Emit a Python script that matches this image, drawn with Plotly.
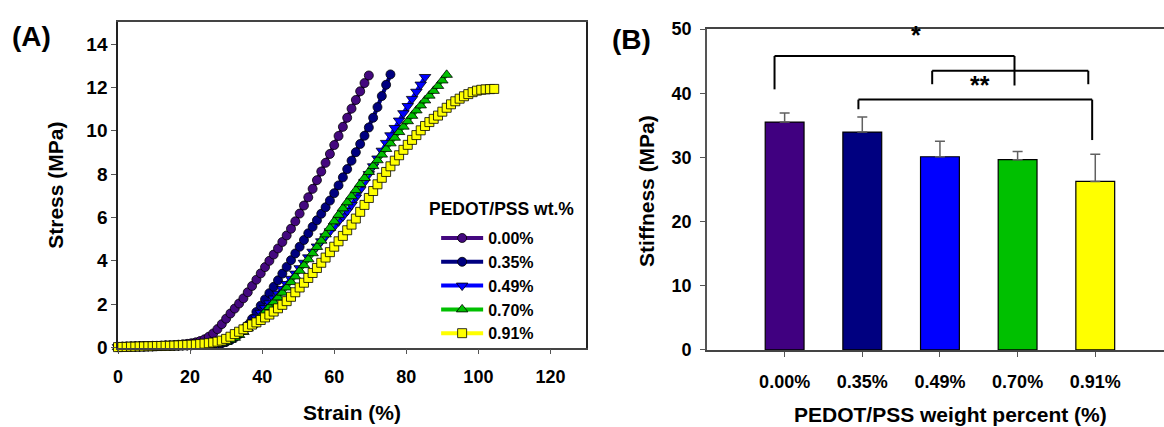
import plotly.graph_objects as go

# ---------------- data: panel A (stress-strain) ----------------
STRAIN = [0, 1.2, 2.4, 3.6, 4.8, 6.0, 7.2, 8.4, 9.6, 10.8, 12.0, 13.2, 14.4, 15.6, 16.8,
          18.0, 19.2, 20.4, 21.6, 22.8, 24.0, 25.2, 26.4, 27.6, 28.8, 30.0, 31.2, 32.4,
          33.6, 34.8, 36.0, 37.2, 38.4, 39.6, 40.8, 42.0, 43.2, 44.4, 45.6, 46.8, 48.0,
          49.2, 50.4, 51.6, 52.8, 54.0, 55.2, 56.4, 57.6, 58.8, 60.0, 61.2, 62.4, 63.6,
          64.8, 66.0, 67.2, 68.4, 69.6, 70.8, 72.0, 73.2, 74.4, 75.6, 76.8, 78.0, 79.2,
          80.4, 81.6, 82.8, 84.0, 85.2, 86.4, 87.6, 88.8, 90.0, 91.2, 92.4, 93.6, 94.8,
          96.0, 97.2, 98.4, 99.6, 100.8, 102.0, 103.2, 104.4]

STRESS_000 = [0.03, 0.04, 0.05, 0.05, 0.06, 0.06, 0.07, 0.07, 0.08, 0.08,
              0.09, 0.10, 0.10, 0.11, 0.13, 0.15, 0.17, 0.20, 0.24, 0.30,
              0.38, 0.50, 0.65, 0.85, 1.08, 1.33, 1.57, 1.80, 2.03, 2.27,
              2.55, 2.84, 3.13, 3.42, 3.71, 4.00, 4.29, 4.57, 4.87, 5.17,
              5.48, 5.82, 6.18, 6.55, 6.93, 7.32, 7.72, 8.12, 8.52, 8.93,
              9.34, 9.76, 10.18, 10.60, 11.02, 11.42, 11.82, 12.20, 12.55]

STRESS_035 = [0.02, 0.03, 0.03, 0.04, 0.04, 0.05, 0.05, 0.06, 0.06, 0.07,
              0.07, 0.08, 0.08, 0.09, 0.09, 0.10, 0.10, 0.11, 0.12, 0.12,
              0.13, 0.14, 0.15, 0.17, 0.20, 0.26, 0.35, 0.47, 0.62, 0.80,
              1.03, 1.32, 1.64, 1.93, 2.22, 2.51, 2.80, 3.10, 3.41, 3.72,
              4.03, 4.34, 4.65, 4.96, 5.27, 5.57, 5.87, 6.17, 6.47, 6.78,
              7.12, 7.48, 7.85, 8.23, 8.62, 9.01, 9.39, 9.77, 10.15, 10.60,
              11.09, 11.60, 12.12, 12.60]

STRESS_049 = [0.02, 0.03, 0.03, 0.04, 0.04, 0.05, 0.05, 0.06, 0.06, 0.07,
              0.07, 0.08, 0.08, 0.09, 0.09, 0.10, 0.10, 0.11, 0.12, 0.12,
              0.13, 0.14, 0.15, 0.17, 0.20, 0.26, 0.36, 0.48, 0.62, 0.78,
              0.96, 1.16, 1.38, 1.60, 1.82, 2.04, 2.26, 2.48, 2.70, 2.93,
              3.17, 3.41, 3.66, 3.91, 4.16, 4.42, 4.66, 4.90, 5.13, 5.36,
              5.59, 5.82, 6.05, 6.30, 6.58, 6.92, 7.28, 7.64, 8.00, 8.36,
              8.72, 9.08, 9.44, 9.79, 10.13, 10.47, 10.81, 11.14, 11.47, 11.80,
              12.13, 12.48]

STRESS_070 = [0.02, 0.03, 0.03, 0.04, 0.04, 0.05, 0.05, 0.06, 0.06, 0.07,
              0.07, 0.08, 0.08, 0.09, 0.09, 0.10, 0.10, 0.11, 0.12, 0.12,
              0.13, 0.14, 0.15, 0.17, 0.20, 0.26, 0.35, 0.45, 0.58, 0.72,
              0.88, 1.05, 1.24, 1.44, 1.65, 1.87, 2.09, 2.31, 2.53, 2.77,
              3.02, 3.28, 3.54, 3.80, 4.07, 4.35, 4.64, 4.93, 5.22, 5.52,
              5.82, 6.12, 6.42, 6.70, 6.98, 7.26, 7.54, 7.82, 8.10, 8.37,
              8.64, 8.90, 9.16, 9.42, 9.68, 9.94, 10.19, 10.44, 10.69, 10.94,
              11.17, 11.40, 11.62, 11.84, 12.07, 12.32, 12.58]

STRESS_091 = [0.02, 0.03, 0.03, 0.04, 0.04, 0.05, 0.05, 0.06, 0.06, 0.07,
              0.07, 0.08, 0.08, 0.09, 0.10, 0.11, 0.12, 0.13, 0.14, 0.16,
              0.18, 0.20, 0.23, 0.27, 0.32, 0.40, 0.50, 0.62, 0.73, 0.84,
              0.95, 1.06, 1.16, 1.27, 1.39, 1.52, 1.66, 1.81, 1.97, 2.14,
              2.34, 2.55, 2.77, 2.99, 3.21, 3.44, 3.67, 3.91, 4.15, 4.40,
              4.65, 4.90, 5.15, 5.41, 5.67, 5.95, 6.26, 6.58, 6.90, 7.22,
              7.53, 7.83, 8.10, 8.36, 8.62, 8.87, 9.12, 9.35, 9.58, 9.80,
              10.02, 10.22, 10.40, 10.55, 10.70, 10.88, 11.06, 11.22, 11.36, 11.48,
              11.59, 11.69, 11.78, 11.85, 11.89, 11.91, 11.92, 11.93]

SERIES_NAMES = ["0.00%", "0.35%", "0.49%", "0.70%", "0.91%"]
SERIES_STRESS = [STRESS_000, STRESS_035, STRESS_049, STRESS_070, STRESS_091]
SERIES_COLORS = ["#44087f", "#000080", "#0000ff", "#00c000", "#ffff00"]
SERIES_SYMBOLS = ["circle", "circle", "triangle-down", "triangle-up", "square"]

X_TICKS_A = [0, 20, 40, 60, 80, 100, 120]
Y_TICKS_A = [0, 2, 4, 6, 8, 10, 12, 14]

# ---------------- data: panel B (stiffness bars) ----------------
CATEGORIES = ["0.00%", "0.35%", "0.49%", "0.70%", "0.91%"]
STIFFNESS = [35.5, 33.95, 30.1, 29.65, 26.25]
STIFFNESS_ERR = [1.4, 2.35, 2.4, 1.25, 4.25]
BAR_COLORS = ["#400080", "#000080", "#0000ff", "#00c000", "#ffff00"]
Y_TICKS_B = [0, 10, 20, 30, 40, 50]

# significance brackets: (x_left, x_right, y_top, y_left_end, y_right_end)
BRACKETS = [(-0.13, 2.96, 45.8, 40.6, 41.2),
            (1.90, 3.91, 43.5, 41.4, 41.4),
            (0.95, 3.96, 39.0, 37.5, 32.7)]
STARS = [("*", 1.69, 49.0), ("**", 2.51, 41.2)]

# ---------------- figure ----------------
W, H = 1164, 427
FONT = "Liberation Sans, Arial, sans-serif"


def fx(p):
    return p / W


def fy(p):
    return 1 - p / H


fig = go.Figure()

for name, stress, color, sym in zip(SERIES_NAMES, SERIES_STRESS, SERIES_COLORS, SERIES_SYMBOLS):
    fig.add_trace(go.Scatter(
        x=STRAIN[:len(stress)], y=stress, name=name, mode="lines+markers",
        line=dict(color=color, width=4),
        marker=dict(symbol=sym, size=10 if "triangle" in sym else 9, color=color,
                    line=dict(color="black", width=0.8)),
        cliponaxis=False, xaxis="x", yaxis="y"))

fig.add_trace(go.Bar(
    x=CATEGORIES, y=STIFFNESS, width=0.5, showlegend=False,
    marker=dict(color=BAR_COLORS, line=dict(color="black", width=1.2)),
    error_y=dict(type="data", array=STIFFNESS_ERR, arrayminus=[0] * len(STIFFNESS_ERR),
                 symmetric=False, color="#606060", thickness=1.5, width=5),
    xaxis="x2", yaxis="y2"))

tickfont = dict(family=FONT, size=18, color="black", weight="bold")
common = dict(showgrid=False, zeroline=False, ticks="outside", ticklen=5,
              tickcolor="#555", tickwidth=1.2, showline=True, linewidth=1.5)

fig.update_layout(
    width=W, height=H, margin=dict(l=0, r=0, t=0, b=0),
    paper_bgcolor="white", plot_bgcolor="white",
    xaxis=dict(domain=[fx(113.5), fx(584)], range=[0, 130], tickvals=X_TICKS_A,
               linecolor="#444", mirror=True, anchor="y", ticklabelstandoff=7,
               tickfont=tickfont, **common),
    yaxis=dict(domain=[fy(355), fy(13)], range=[0, 15], tickvals=Y_TICKS_A,
               linecolor="#222", mirror=True, anchor="x",
               tickfont=dict(family=FONT, size=19, color="black", weight="bold"), **common),
    xaxis2=dict(domain=[fx(705), 1.0], range=[-1, 4.885], type="category",
                linecolor="#444", mirror=True, anchor="y2", ticklabelstandoff=10,
                tickfont=tickfont, **common),
    yaxis2=dict(domain=[fy(357.5), fy(20)], range=[0, 50], tickvals=Y_TICKS_B,
                linecolor="#555", mirror=False, anchor="x2", ticklabelstandoff=5,
                tickfont=tickfont, **common),
    legend=dict(x=fx(433), y=fy(222), xanchor="left", yanchor="top",
                bgcolor="rgba(0,0,0,0)", borderwidth=0, itemwidth=42,
                font=dict(family=FONT, size=16, color="black", weight="bold")),
    showlegend=True,
)

shapes = []
for xl, xr, yt, yl, yr in BRACKETS:
    for (x0, y0, x1, y1) in [(xl, yl, xl, yt), (xl, yt, xr, yt), (xr, yt, xr, yr)]:
        shapes.append(dict(type="line", xref="x2", yref="y2", x0=x0, y0=y0, x1=x1, y1=y1,
                           line=dict(color="black", width=2)))
fig.update_layout(shapes=shapes)

ann = []
for txt, xs, ys in STARS:
    ann.append(dict(text=txt, x=xs, y=ys, xref="x2", yref="y2", showarrow=False,
                    xanchor="center", yanchor="middle",
                    font=dict(family=FONT, size=25, color="black", weight="bold")))

title_font = dict(family=FONT, size=21, color="black", weight="bold")
ann += [
    dict(text="PEDOT/PSS wt.%", x=fx(424), y=fy(209), xref="paper", yref="paper",
         showarrow=False, xanchor="left", yanchor="middle",
         font=dict(family=FONT, size=17.5, color="black", weight="bold")),
    dict(text="Strain (%)", x=fx(348.5), y=fy(423), xref="paper", yref="paper",
         showarrow=False, xanchor="center", yanchor="middle", font=title_font),
    dict(text="Stress (MPa)", x=fx(51), y=fy(184), xref="paper", yref="paper",
         showarrow=False, textangle=-90, xanchor="center", yanchor="middle", font=title_font),
    dict(text="PEDOT/PSS weight percent (%)", x=fx(950), y=fy(425), xref="paper", yref="paper",
         showarrow=False, xanchor="center", yanchor="middle", font=title_font),
    dict(text="Stiffness (MPa)", x=fx(644), y=fy(190), xref="paper", yref="paper",
         showarrow=False, textangle=-90, xanchor="center", yanchor="middle", font=title_font),
    dict(text="(A)", x=fx(5), y=fy(28), xref="paper", yref="paper", showarrow=False,
         xanchor="left", yanchor="middle",
         font=dict(family=FONT, size=28, color="black", weight="bold")),
    dict(text="(B)", x=fx(608), y=fy(31), xref="paper", yref="paper", showarrow=False,
         xanchor="left", yanchor="middle",
         font=dict(family=FONT, size=28, color="black", weight="bold")),
]
fig.update_layout(annotations=ann)

fig.write_html("out.html")
